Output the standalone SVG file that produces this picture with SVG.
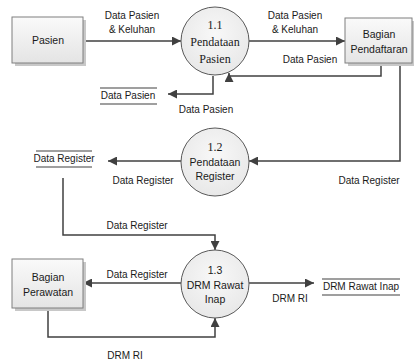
<svg xmlns="http://www.w3.org/2000/svg" width="414" height="362" viewBox="0 0 414 362">
<defs>
<linearGradient id="boxg" x1="0" y1="0" x2="0" y2="1">
<stop offset="0" stop-color="#fafafa"/>
<stop offset="1" stop-color="#e4e4e4"/>
</linearGradient>
<radialGradient id="circg" cx="0.5" cy="0.4" r="0.6">
<stop offset="0" stop-color="#f8f8f8"/>
<stop offset="1" stop-color="#e8e8e8"/>
</radialGradient>
<marker id="ah" viewBox="0 0 10 10" refX="10" refY="5" markerWidth="9" markerHeight="9" markerUnits="userSpaceOnUse" orient="auto">
<path d="M0,0 L10,5 L0,10 z" fill="#404040"/>
</marker>
</defs>
<style>
.box{fill:url(#boxg);stroke:#7f7f7f;stroke-width:1}
.shadow{fill:#c8c8c8}
.proc{fill:url(#circg);stroke:#595959;stroke-width:1}
.t{font-family:"Liberation Sans",Arial,sans-serif;font-size:10px;fill:#1a1a1a;text-anchor:middle}
.tb{font-family:"Liberation Sans",Arial,sans-serif;font-size:10.5px;fill:#1a1a1a;text-anchor:middle}
.ts{font-family:"Liberation Serif","Times New Roman",serif;font-size:12px;fill:#1a1a1a;text-anchor:middle}
.st{stroke:#7f7f7f;stroke-width:1.5}
.c{fill:none;stroke:#404040;stroke-width:1.5;marker-end:url(#ah)}
</style>
<g id="connectors">
<path class="c" d="M83,41 L181,41"/>
<path class="c" d="M249,41 L345,41"/>
<path class="c" d="M381,63 L381,76 L229,76 L229,73"/>
<path class="c" d="M213,76 L213,94 L168,94"/>
<path class="c" d="M400,63 L400,161 L249,161"/>
<path class="c" d="M181,161 L108,161"/>
<path class="c" d="M63,178 L63,235 L215,235 L215,250"/>
<path class="c" d="M181,283 L83,283"/>
<path class="c" d="M48,308 L48,337 L215,337 L215,318"/>
<path class="c" d="M249,283 L314,283"/>
<text class="t" x="132" y="19">Data Pasien</text>
<text class="t" x="132" y="33">&amp; Keluhan</text>
<text class="t" x="295" y="19">Data Pasien</text>
<text class="t" x="295" y="33">&amp; Keluhan</text>
<text class="t" x="310" y="63">Data Pasien</text>
<text class="t" x="206" y="113">Data Pasien</text>
<text class="t" x="369" y="184">Data Register</text>
<text class="t" x="143" y="184">Data Register</text>
<text class="t" x="137" y="229">Data Register</text>
<text class="t" x="137" y="278">Data Register</text>
<text class="t" x="290" y="302">DRM RI</text>
<text class="t" x="125" y="359">DRM RI</text>
</g>
<g id="pasien">
<rect class="shadow" x="15" y="20" width="71" height="46"/>
<rect class="box" x="12" y="17" width="71" height="46"/>
<text class="tb" x="48" y="44">Pasien</text>
</g>
<g id="bagian-pendaftaran">
<rect class="shadow" x="348" y="21" width="66" height="45"/>
<rect class="box" x="345" y="18" width="67" height="45"/>
<text class="tb" x="379" y="38">Bagian</text>
<text class="tb" x="379" y="53">Pendaftaran</text>
</g>
<g id="bagian-perawatan">
<rect class="shadow" x="15" y="262" width="71" height="49"/>
<rect class="box" x="12" y="259" width="71" height="49"/>
<text class="tb" x="48" y="281">Bagian</text>
<text class="tb" x="48" y="296">Perawatan</text>
</g>
<g id="p1-1">
<circle class="proc" cx="215" cy="41" r="34"/>
<text class="ts" x="215" y="29">1.1</text>
<text class="ts" x="215" y="46">Pendataan</text>
<text class="ts" x="215" y="63">Pasien</text>
</g>
<g id="p1-2">
<circle class="proc" cx="215" cy="162" r="34"/>
<text class="ts" x="215" y="151">1.2</text>
<text class="tb" x="215" y="166">Pendataan</text>
<text class="tb" x="215" y="180">Register</text>
</g>
<g id="p1-3">
<circle class="proc" cx="215" cy="284" r="34"/>
<text class="tb" x="215" y="274">1.3</text>
<text class="tb" x="215" y="289">DRM Rawat</text>
<text class="tb" x="215" y="303">Inap</text>
</g>
<g id="store-data-pasien">
<line class="st" x1="100" y1="88" x2="157" y2="88"/>
<line class="st" x1="100" y1="104" x2="157" y2="104"/>
<text class="t" x="128" y="99">Data Pasien</text>
</g>
<g id="store-data-register">
<line class="st" x1="36" y1="151" x2="92" y2="151"/>
<line class="st" x1="36" y1="167" x2="92" y2="167"/>
<text class="t" x="64" y="162">Data Register</text>
</g>
<g id="store-drm-rawat-inap">
<line class="st" x1="322" y1="279" x2="400" y2="279"/>
<line class="st" x1="322" y1="295" x2="400" y2="295"/>
<text class="t" x="361" y="290">DRM Rawat Inap</text>
</g>
</svg>
